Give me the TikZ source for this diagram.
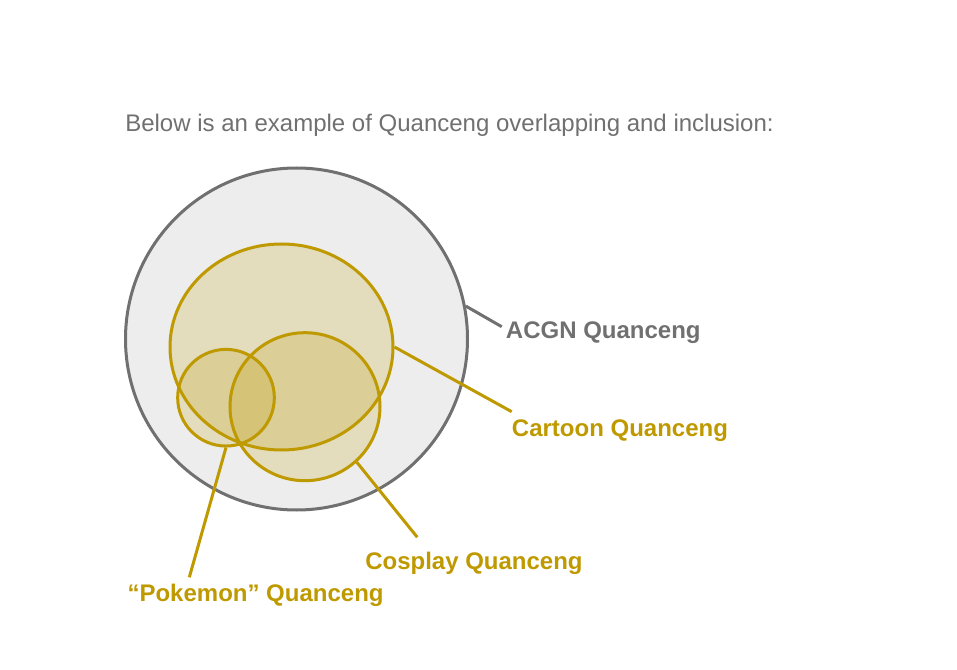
\documentclass[tikz,border=0pt]{standalone}
\usepackage{fontspec}
\setmainfont{Liberation Sans}
\usetikzlibrary{shapes.geometric}
\definecolor{gold}{HTML}{BF9900}
\definecolor{graytxt}{HTML}{707070}
\definecolor{grayfill}{HTML}{EDEDED}
\tikzset{
  goldset/.style={draw=gold, line width=2.25pt, fill=gold, fill opacity=0.2, draw opacity=1, inner sep=0pt, ellipse},
  goldline/.style={draw=gold, line width=2.25pt},
  grayline/.style={draw=graytxt, line width=2.25pt},
  lbl/.style={anchor=base west, inner sep=0pt, font=\fontsize{18pt}{21pt}\selectfont\bfseries},
}
\begin{document}
\begin{tikzpicture}[x=0.75pt, y=-0.75pt]
\useasboundingbox (0,0) rectangle (957,670);
\node[anchor=base west, inner sep=0pt, text=graytxt, font=\fontsize{18pt}{21pt}\selectfont] (title) at (125,132) {Below is an example of Quanceng overlapping and inclusion:};
\node[circle, draw=graytxt, line width=2.25pt, fill=grayfill, inner sep=0pt, minimum size=256.5pt] (acgn) at (296.5,339) {};
\node[goldset, minimum width=167.25pt, minimum height=154.5pt] (cartoon) at (281.5,347) {};
\node[goldset, minimum width=112.5pt, minimum height=111pt] (cosplay) at (305,406.7) {};
\node[goldset, minimum width=72.5pt, minimum height=72.5pt] (pokemon) at (226,397.7) {};
\coordinate (acgnend) at (501.7,326.7);
\coordinate (cartoonend) at (511.7,411.7);
\coordinate (cosplayend) at (417.3,537.3);
\coordinate (pokemonend) at (189.3,577.3);
\draw[grayline] (acgn.11.4) -- (acgnend);
\draw[goldline] (cartoon.east) -- (cartoonend);
\draw[goldline] (cosplay.-47) -- (cosplayend);
\draw[goldline] (pokemon.south) -- (pokemonend);
\node[lbl, text=graytxt] (acgnlbl) at (505.7,339) {ACGN Quanceng};
\node[lbl, text=gold] (cartoonlbl) at (511.7,436.7) {Cartoon Quanceng};
\node[lbl, text=gold] (cosplaylbl) at (365,569.3) {Cosplay Quanceng};
\node[lbl, text=gold] (pokemonlbl) at (127.3,601.7) {“Pokemon” Quanceng};
\end{tikzpicture}
\end{document}
